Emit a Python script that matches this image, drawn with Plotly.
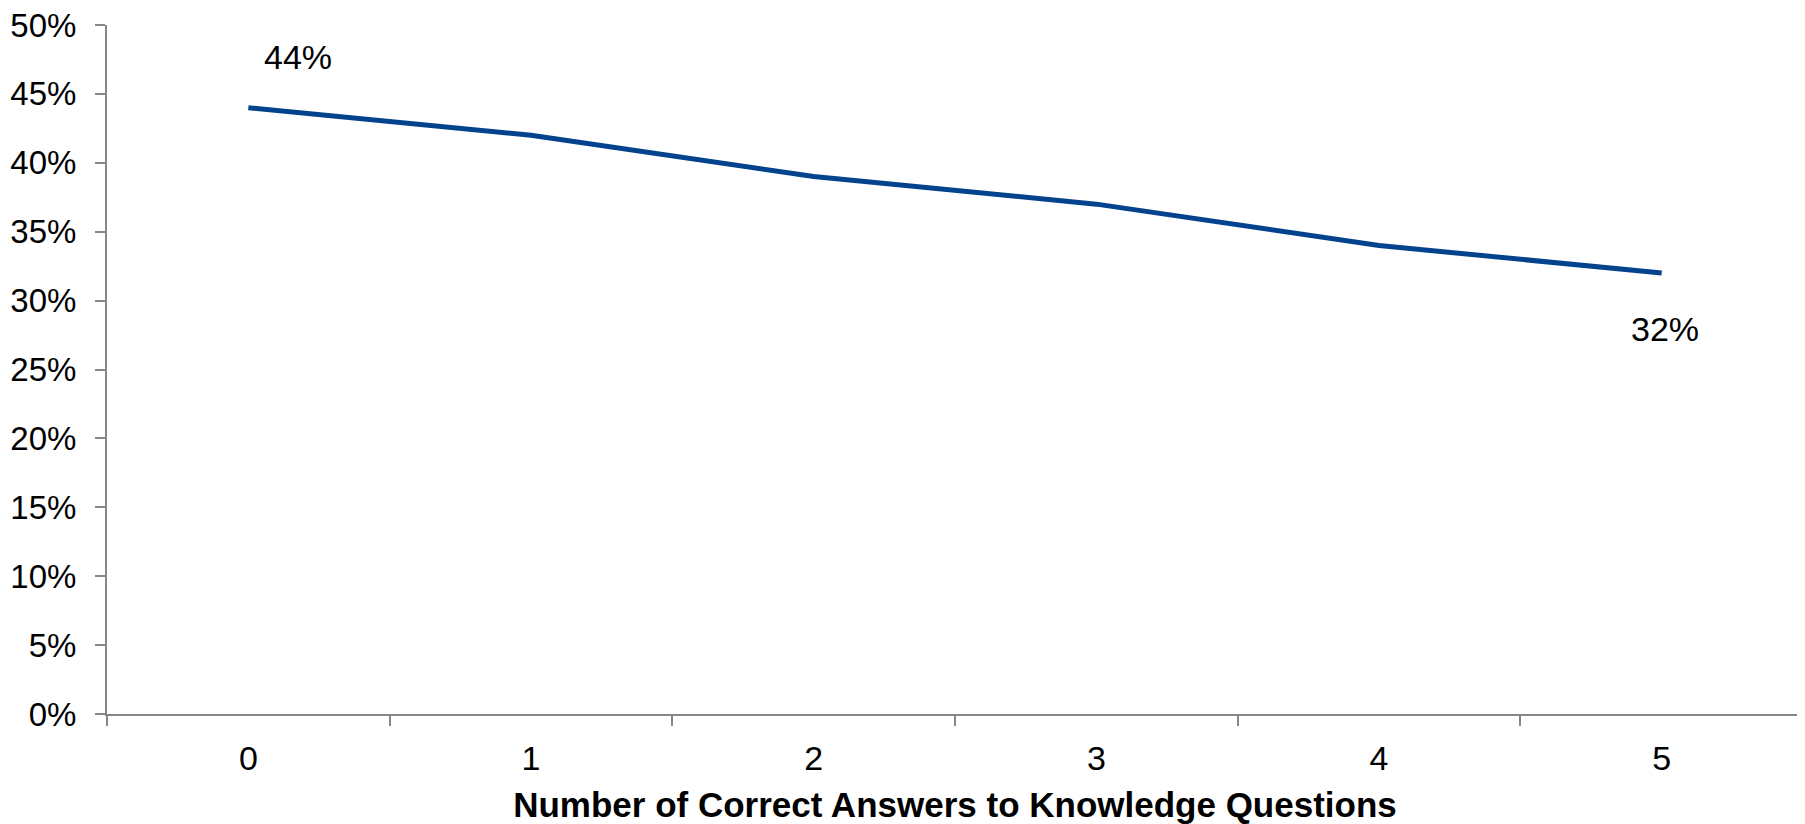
import plotly.graph_objects as go

categories = ["0", "1", "2", "3", "4", "5"]
values = [0.44, 0.42, 0.39, 0.37, 0.34, 0.32]
y_ticks = [0, 0.05, 0.10, 0.15, 0.20, 0.25, 0.30, 0.35, 0.40, 0.45, 0.50]
x_title = "Number of Correct Answers to Knowledge Questions"

FONT = "Liberation Sans, Arial, sans-serif"
AXIS = "#868686"

fig = go.Figure()
fig.add_trace(go.Scatter(
    x=categories, y=values, mode="lines",
    line=dict(color="#03428C", width=5),
    hoverinfo="skip", showlegend=False,
))

fig.add_annotation(x=categories[0], y=values[0], text=f"{values[0]:.0%}",
                   showarrow=False, xshift=50, yshift=51,
                   font=dict(family=FONT, size=34, color="#000"))
fig.add_annotation(x=categories[-1], y=values[-1], text=f"{values[-1]:.0%}",
                   showarrow=False, xshift=3, yshift=-56,
                   font=dict(family=FONT, size=34, color="#000"))

fig.update_layout(
    width=1797, height=816,
    margin=dict(l=99, r=2, t=17, b=110),
    paper_bgcolor="white", plot_bgcolor="white",
    font=dict(family=FONT, size=34, color="#000"),
    xaxis=dict(
        type="category", range=[-0.5, 5.5], automargin=False,
        showline=True, linecolor=AXIS, linewidth=2,
        ticks="outside", tickson="boundaries", ticklen=10, tickwidth=2, tickcolor=AXIS,
        showgrid=False, zeroline=False,
        title=dict(text=f"<b>{x_title}</b>", standoff=26, font=dict(size=35)),
        tickfont=dict(size=34), ticklabelstandoff=13,
    ),
    yaxis=dict(
        range=[0, 0.5], tickvals=y_ticks, tickformat=".0%", automargin=False,
        showline=True, linecolor=AXIS, linewidth=2,
        ticks="outside", ticklen=10, tickwidth=2, tickcolor=AXIS,
        showgrid=False, zeroline=False, ticklabeloverflow="allow",
        tickfont=dict(size=33), ticklabelstandoff=12,
    ),
)

fig.write_html("out.html")
